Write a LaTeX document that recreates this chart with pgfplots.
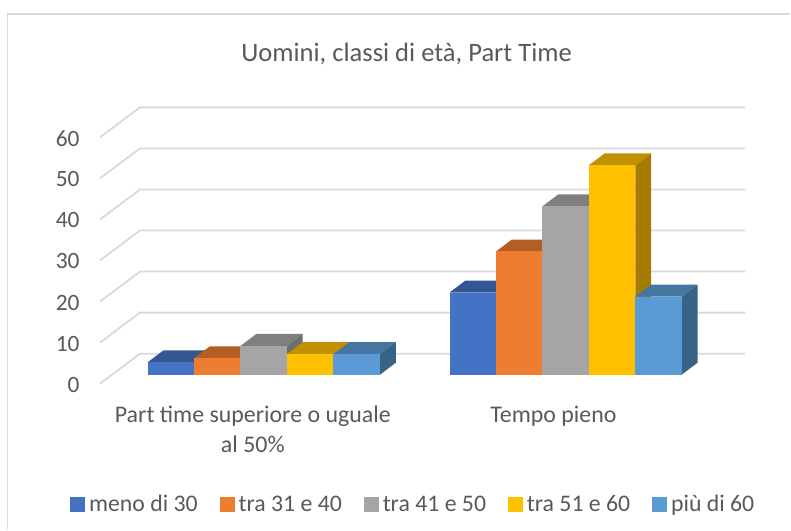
\documentclass[border=0pt]{standalone}
\usepackage{pgfplots}
\pgfplotsset{compat=1.18}
\usepackage{fontspec}
\setmainfont{Carlito}
\definecolor{cgrid}{HTML}{D9D9D9}
\definecolor{ctxt}{HTML}{595959}
\definecolor{cframe}{HTML}{D9D9D9}
\definecolor{aF}{HTML}{4472C4}\definecolor{aT}{HTML}{355692}\definecolor{aS}{HTML}{2F5597}
\definecolor{bF}{HTML}{ED7D31}\definecolor{bT}{HTML}{B55E23}
\definecolor{cF}{HTML}{A5A5A5}\definecolor{cT}{HTML}{7F7F7F}\definecolor{cS}{HTML}{6E6E6E}
\definecolor{dF}{HTML}{FFC000}\definecolor{dT}{HTML}{C09100}\definecolor{dS}{HTML}{A57C00}
\definecolor{eF}{HTML}{5B9BD5}\definecolor{eT}{HTML}{4576A2}\definecolor{eS}{HTML}{376387}
\begin{document}
\begin{tikzpicture}[x=1bp,y=1bp]
\begin{axis}[
  scale only axis, width=791bp, height=530bp,
  xmin=0, xmax=791, ymin=-37.71, ymax=91.24,
  axis line style={draw=none},
  major tick length=0pt,
  clip=false,
  tick label style={font=\fontsize{23.5}{26}\selectfont, text=ctxt},
  /pgf/number format/assume math mode=true,
  ytick={0,10,20,30,40,50,60},
  yticklabel style={anchor=east, xshift=83bp, yshift=-10bp},
  xtick={253,554},
  xticklabels={{Part time superiore o uguale\\al 50\%},{Tempo pieno}},
  xticklabel style={align=center, anchor=north, yshift=127bp, font=\fontsize{24}{30}\selectfont},
  legend columns=5,
  legend style={at={(axis cs:413.7,-31.6)}, anchor=center, draw=none, fill=none,
    font=\fontsize{23.9}{26}\selectfont, text=ctxt,
    /tikz/every even column/.style={column sep=20bp},
    /tikz/every odd column/.style={column sep=2.5bp}},
  legend image code/.code={\fill[#1] (0bp,-7bp) rectangle (14bp,7bp);},
]
% frame
\addplot[cframe, line width=1.8bp, forget plot] coordinates {(7.5,-37.71) (7.5,87.8) (791,87.8)};
% gridlines
\addplot[cgrid, line width=1.8bp, forget plot] coordinates {(100,-2.2)(140,5.1)(746,5.1)};
\addplot[cgrid, line width=1.8bp, forget plot] coordinates {(100,7.8)(140,15.1)(746,15.1)};
\addplot[cgrid, line width=1.8bp, forget plot] coordinates {(100,17.8)(140,25.1)(746,25.1)};
\addplot[cgrid, line width=1.8bp, forget plot] coordinates {(100,27.8)(140,35.1)(746,35.1)};
\addplot[cgrid, line width=1.8bp, forget plot] coordinates {(100,37.8)(140,45.1)(746,45.1)};
\addplot[cgrid, line width=1.8bp, forget plot] coordinates {(100,47.8)(140,55.1)(746,55.1)};
\addplot[cgrid, line width=1.8bp, forget plot] coordinates {(100,57.8)(140,65.1)(746,65.1)};
% Part time, meno di 30 = 3
\addplot[fill=aT, draw=none, forget plot] coordinates {(147.7,3)(194.2,3)(210,5.9)(163.5,5.9)} --cycle;
\addplot[fill=aS, draw=none, forget plot] coordinates {(194.2,0)(210,2.9)(210,5.9)(194.2,3)} --cycle;
\addplot[fill=aF, draw=none, forget plot] coordinates {(147.7,0)(194.2,0)(194.2,3)(147.7,3)} --cycle;
% tra 31 e 40 = 4
\addplot[fill=bT, draw=none, forget plot] coordinates {(194.2,4)(240.7,4)(256.5,6.9)(210,6.9)} --cycle;
\addplot[fill=bT, draw=none, forget plot] coordinates {(240.7,0)(256.5,2.9)(256.5,6.9)(240.7,4)} --cycle;
\addplot[fill=bF, draw=none, forget plot] coordinates {(194.2,0)(240.7,0)(240.7,4)(194.2,4)} --cycle;
% tra 41 e 50 = 7
\addplot[fill=cT, draw=none, forget plot] coordinates {(240.7,7)(287.2,7)(303,9.9)(256.5,9.9)} --cycle;
\addplot[fill=cS, draw=none, forget plot] coordinates {(287.2,0)(303,2.9)(303,9.9)(287.2,7)} --cycle;
\addplot[fill=cF, draw=none, forget plot] coordinates {(240.7,0)(287.2,0)(287.2,7)(240.7,7)} --cycle;
% tra 51 e 60 = 5
\addplot[fill=dT, draw=none, forget plot] coordinates {(287.2,5)(333.7,5)(349.5,7.9)(303,7.9)} --cycle;
\addplot[fill=dS, draw=none, forget plot] coordinates {(333.7,0)(349.5,2.9)(349.5,7.9)(333.7,5)} --cycle;
\addplot[fill=dF, draw=none, forget plot] coordinates {(287.2,0)(333.7,0)(333.7,5)(287.2,5)} --cycle;
% piu di 60 = 5
\addplot[fill=eT, draw=none, forget plot] coordinates {(333.7,5)(380.4,5)(396.2,7.9)(349.5,7.9)} --cycle;
\addplot[fill=eS, draw=none, forget plot] coordinates {(380.4,0)(396.2,2.9)(396.2,7.9)(380.4,5)} --cycle;
\addplot[fill=eF, draw=none, forget plot] coordinates {(333.7,0)(380.4,0)(380.4,5)(333.7,5)} --cycle;
% Tempo pieno, meno di 30 = 20
\addplot[fill=aT, draw=none, forget plot] coordinates {(450,20)(496.5,20)(512.3,22.9)(465.8,22.9)} --cycle;
\addplot[fill=aS, draw=none, forget plot] coordinates {(496.5,0)(512.3,2.9)(512.3,22.9)(496.5,20)} --cycle;
\addplot[fill=aF, draw=none, forget plot] coordinates {(450,0)(496.5,0)(496.5,20)(450,20)} --cycle;
% tra 31 e 40 = 30
\addplot[fill=bT, draw=none, forget plot] coordinates {(496.5,30)(543,30)(558.8,32.9)(512.3,32.9)} --cycle;
\addplot[fill=bT, draw=none, forget plot] coordinates {(543,0)(558.8,2.9)(558.8,32.9)(543,30)} --cycle;
\addplot[fill=bF, draw=none, forget plot] coordinates {(496.5,0)(543,0)(543,30)(496.5,30)} --cycle;
% tra 41 e 50 = 41
\addplot[fill=cT, draw=none, forget plot] coordinates {(543,41)(589.5,41)(605.3,43.9)(558.8,43.9)} --cycle;
\addplot[fill=cS, draw=none, forget plot] coordinates {(589.5,0)(605.3,2.9)(605.3,43.9)(589.5,41)} --cycle;
\addplot[fill=cF, draw=none, forget plot] coordinates {(543,0)(589.5,0)(589.5,41)(543,41)} --cycle;
% tra 51 e 60 = 51
\addplot[fill=dT, draw=none, forget plot] coordinates {(589.5,51)(636,51)(651.8,53.9)(605.3,53.9)} --cycle;
\addplot[fill=dS, draw=none, forget plot] coordinates {(636,0)(651.8,2.9)(651.8,53.9)(636,51)} --cycle;
\addplot[fill=dF, draw=none, forget plot] coordinates {(589.5,0)(636,0)(636,51)(589.5,51)} --cycle;
% piu di 60 = 19
\addplot[fill=eT, draw=none, forget plot] coordinates {(636,19)(682.5,19)(698.3,21.9)(651.8,21.9)} --cycle;
\addplot[fill=eS, draw=none, forget plot] coordinates {(682.5,0)(698.3,2.9)(698.3,21.9)(682.5,19)} --cycle;
\addplot[fill=eF, draw=none, forget plot] coordinates {(636,0)(682.5,0)(682.5,19)(636,19)} --cycle;
% legend
\addlegendimage{aF}\addlegendentry{meno di 30}
\addlegendimage{bF}\addlegendentry{tra 31 e 40}
\addlegendimage{cF}\addlegendentry{tra 41 e 50}
\addlegendimage{dF}\addlegendentry{tra 51 e 60}
\addlegendimage{eF}\addlegendentry{più di 60}
\node[anchor=center, font=\fontsize{26.7}{30}\selectfont, text=ctxt] at (axis cs:407,78.2) {Uomini, classi di età, Part Time};
\path (axis cs:0,-37.71) rectangle (axis cs:791,91.24);
\end{axis}
\end{tikzpicture}
\end{document}
